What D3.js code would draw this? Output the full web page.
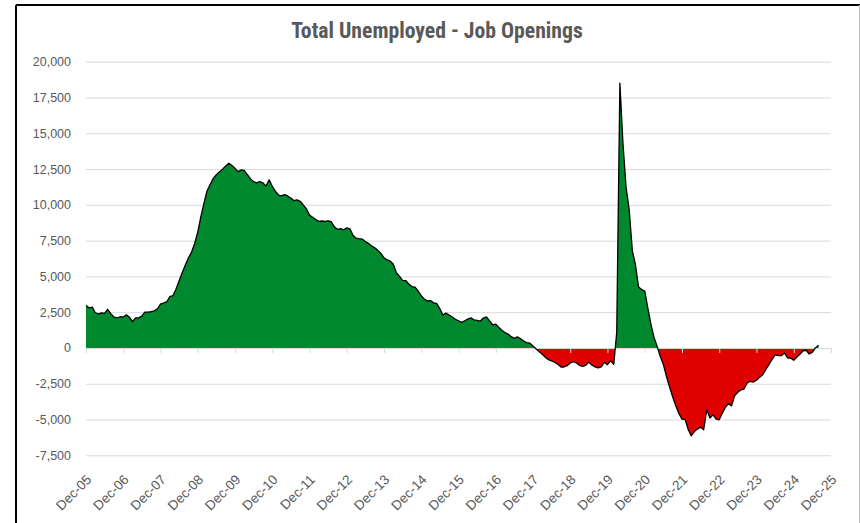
<!DOCTYPE html>
<html>
<head>
<meta charset="utf-8">
<script src="https://cdn.jsdelivr.net/npm/d3@7"></script>
<style>
  html, body { margin: 0; padding: 0; background: #fff; }
  svg { display: block; }
</style>
</head>
<body>
<svg id="chart" width="860" height="523"></svg>
<script>
// Total unemployed minus job openings, thousands, monthly from Dec-05
const startMonth = "2005-12";
const gapValues = [
  2960, 2800, 2850, 2480, 2370, 2450, 2420, 2700, 2400, 2160, 2110, 2180,
  2160, 2310, 2150, 1840, 2100, 2100, 2220, 2500, 2510, 2530, 2590, 2740,
  3070, 3140, 3230, 3580, 3650, 4100, 4700, 5250, 5800, 6300, 6700, 7300,
  8100, 9200, 10150, 10950, 11420, 11830, 12110, 12300, 12490, 12720, 12910, 12740,
  12550, 12320, 12440, 12400, 12110, 11830, 11620, 11530, 11620, 11530, 11320, 11750,
  11300, 10950, 10680, 10620, 10710, 10620, 10470, 10300, 10350, 10250, 10000, 9720,
  9280, 9130, 8970, 8850, 8870, 8850, 8880, 8830, 8460, 8290, 8330, 8250,
  8390, 8320, 7860, 7680, 7640, 7610, 7430, 7310, 7130, 7000, 6820, 6600,
  6300, 6150, 6060, 5870, 5260, 5010, 4720, 4710, 4470, 4290, 4250, 3980,
  3650, 3410, 3280, 3310, 3150, 3120, 2750, 2300, 2430, 2300, 2160, 2000,
  1900, 1790, 1900, 2020, 2100, 1960, 1920, 1870, 2090, 2170, 1890, 1620,
  1660, 1430, 1220, 1080, 970, 790, 670, 770, 640, 480, 370, 330,
  140, -70, -260, -440, -650, -820, -910, -1000, -1140, -1330, -1330, -1240,
  -1050, -960, -1050, -1210, -1280, -1210, -1000, -1190, -1330, -1400, -1330, -1000,
  -1170, -900, -1150, 1100, 18510, 14300, 11200, 9690, 6800, 5800, 4250, 4080,
  3980, 2750, 1600, 750, 120, -580, -1140, -1980, -2730, -3430, -4040, -4600,
  -4970, -5000, -5720, -6140, -5840, -5670, -5530, -5720, -4320, -4900, -4670, -4970,
  -5020, -4550, -4130, -3900, -4050, -3340, -3100, -2920, -2870, -2450, -2330, -2380,
  -2260, -2050, -1870, -1520, -1170, -820, -490, -540, -540, -350, -700, -720,
  -860, -630, -420, -210, -160, -420, -300, 0, 190
];
const xTickLabels = [
  "Dec-05", "Dec-06", "Dec-07", "Dec-08", "Dec-09", "Dec-10", "Dec-11",
  "Dec-12", "Dec-13", "Dec-14", "Dec-15", "Dec-16", "Dec-17", "Dec-18",
  "Dec-19", "Dec-20", "Dec-21", "Dec-22", "Dec-23", "Dec-24", "Dec-25"
];
const yTickValues = [-7500, -5000, -2500, 0, 2500, 5000, 7500, 10000, 12500, 15000, 17500, 20000];
const chartTitle = "Total Unemployed - Job Openings";

const parseMonth = d3.timeParse("%Y-%m");
const parseTick = d3.timeParse("%b-%y");
const start = parseMonth(startMonth);
const series = gapValues.map((v, i) => ({ date: d3.timeMonth.offset(start, i), value: v }));
const tickDates = xTickLabels.map(parseTick);

const svg = d3.select("#chart");
const W = 860, H = 523;
const plot = { left: 86, right: 831, top: 61.7, bottom: 455.3 };
const textGrey = "#595959";
const gridGrey = "#d9d9d9";

// chart frame
svg.append("line").attr("x1", 16).attr("x2", 16).attr("y1", 5).attr("y2", H)
  .attr("stroke", "#000").attr("stroke-width", 2);
svg.append("line").attr("x1", 16).attr("x2", W).attr("y1", 5).attr("y2", 5)
  .attr("stroke", "#000").attr("stroke-width", 2);
svg.append("line").attr("x1", 859.5).attr("x2", 859.5).attr("y1", 5).attr("y2", H)
  .attr("stroke", "#bfbfbf").attr("stroke-width", 1);

const x = d3.scaleTime()
  .domain([tickDates[0], tickDates[tickDates.length - 1]])
  .range([plot.left, plot.right]);
const y = d3.scaleLinear()
  .domain([-7500, 20000])
  .range([plot.bottom, plot.top]);

// title
svg.append("text")
  .attr("x", 437).attr("y", 38)
  .attr("text-anchor", "middle")
  .attr("font-family", "'Liberation Sans Narrow', 'Arial Narrow', 'Roboto Condensed', sans-serif")
  .attr("font-weight", "bold")
  .attr("font-size", 21.7)
  .attr("fill", textGrey)
  .text(chartTitle);

// y axis with gridlines
const fmt = d3.format(",");
const yAxis = d3.axisLeft(y)
  .tickValues(yTickValues)
  .tickSize(-(plot.right - plot.left))
  .tickPadding(15)
  .tickFormat(d => fmt(d).replace("\u2212", "-"));
const gy = svg.append("g").attr("transform", `translate(${plot.left},0)`).call(yAxis);
gy.select(".domain").remove();
gy.selectAll(".tick line").attr("stroke", gridGrey).attr("stroke-width", 1);
gy.selectAll(".tick text")
  .attr("fill", textGrey)
  .attr("font-family", "'Liberation Sans', Arial, sans-serif")
  .attr("font-size", 12.5);

// areas above and below zero, split with clip paths
const y0 = y(0);
const defs = svg.append("defs");
defs.append("clipPath").attr("id", "clip-pos").append("rect")
  .attr("x", plot.left - 5).attr("y", 0).attr("width", plot.right - plot.left + 10).attr("height", y0);
defs.append("clipPath").attr("id", "clip-neg").append("rect")
  .attr("x", plot.left - 5).attr("y", y0).attr("width", plot.right - plot.left + 10).attr("height", H - y0);

const area = d3.area()
  .x(d => x(d.date))
  .y0(y0)
  .y1(d => y(d.value));

svg.append("path").datum(series)
  .attr("d", area).attr("fill", "#00882f").attr("clip-path", "url(#clip-pos)");
svg.append("path").datum(series)
  .attr("d", area).attr("fill", "#e00000").attr("clip-path", "url(#clip-neg)");

// category axis along zero
const xAxis = d3.axisBottom(x).tickValues(tickDates).tickSize(5).tickFormat("");
const gx = svg.append("g").attr("transform", `translate(0,${y0})`).call(xAxis);
gx.select(".domain").attr("stroke", gridGrey);
gx.selectAll(".tick line").attr("stroke", gridGrey);

// outline
const line = d3.line().x(d => x(d.date)).y(d => y(d.value));
svg.append("path").datum(series)
  .attr("d", line).attr("fill", "none").attr("stroke", "#000")
  .attr("stroke-width", 1.3).attr("stroke-linejoin", "round");

// rotated date labels beneath the plot
svg.append("g").selectAll("text")
  .data(tickDates)
  .join("text")
  .attr("transform", d => `translate(${x(d) + 3},${477}) rotate(-45)`)
  .attr("text-anchor", "end")
  .attr("dy", "0.35em")
  .attr("font-family", "'Liberation Sans', Arial, sans-serif")
  .attr("font-size", 13.5)
  .attr("fill", textGrey)
  .text((d, i) => xTickLabels[i]);
</script>
</body>
</html>
